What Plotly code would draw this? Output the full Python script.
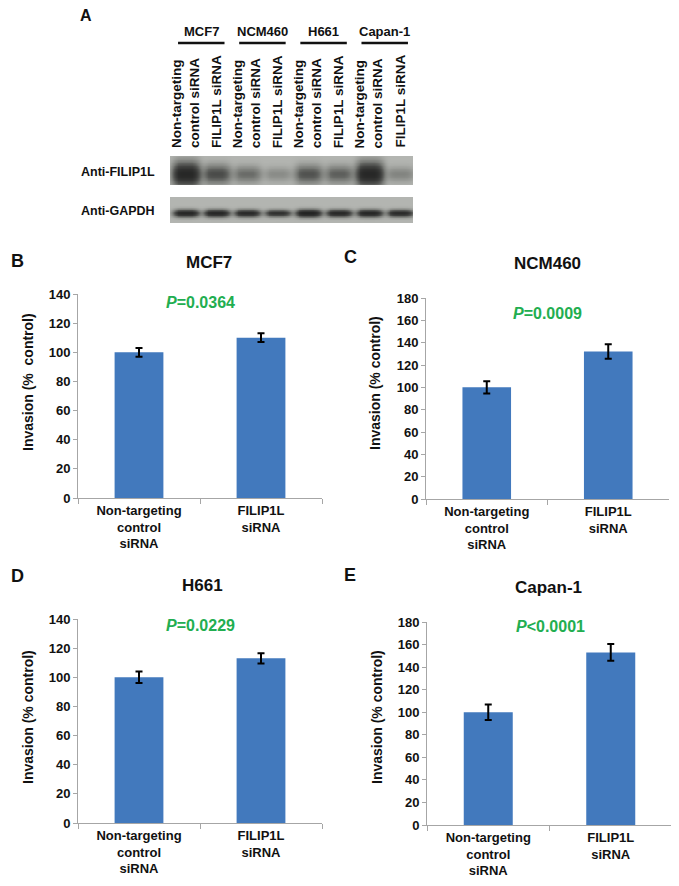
import numpy as np
import plotly.graph_objects as go

# page body has an 8px margin; figure coordinates below are given in page pixels
PAGE_W, PAGE_H = 679, 886
OFF = 8
W, H = PAGE_W - OFF, PAGE_H - OFF

# ---------------- data ----------------
categories = ["Non-targeting<br>control<br>siRNA", "FILIP1L<br>siRNA"]
panel_letters = ["B", "C", "D", "E"]
cell_lines = ["MCF7", "NCM460", "H661", "Capan-1"]

mcf7_mean = [100, 110]
mcf7_err = [3, 3]
ncm460_mean = [100, 132]
ncm460_err = [5.5, 6.5]
h661_mean = [100, 113]
h661_err = [4, 3.5]
capan1_mean = [100, 153]
capan1_err = [6.8, 7.4]

p_labels = ["<i>P</i>=0.0364", "<i>P</i>=0.0009", "<i>P</i>=0.0229", "<i>P</i>&lt;0.0001"]
y_max = [140, 180, 140, 180]
y_titles = ["Invasion (%\u00a0 control)", "Invasion (% control)",
            "Invasion (% control)", "Invasion (% control)"]

# western blot (panel A)
lane_labels = ["Non-targeting<br>control siRNA", "FILIP1L siRNA"] * 4
lane_index = [1, 2, 3, 4, 5, 6, 7, 8]
filip1l_band = [1.0, 0.55, 0.35, 0.18, 0.5, 0.42, 1.0, 0.22]
gapdh_band = [0.85, 0.85, 0.8, 0.7, 0.92, 0.82, 0.85, 0.78]
blot_labels = ["Anti-FILIP1L", "Anti-GAPDH"]

means = [mcf7_mean, ncm460_mean, h661_mean, capan1_mean]
errs = [mcf7_err, ncm460_err, h661_err, capan1_err]

# ---------------- layout helpers ----------------
def px(x):
    return (x - OFF) / W

def py(y):
    return 1 - (y - OFF) / H

FONT = "Arial, Liberation Sans, Helvetica, sans-serif"
BAR = "#4279BD"
GREEN = "#22AE50"
AXC = "#A6A6A6"
TXT = "#111111"

# panel geometry (page-pixel boxes)
dom_x = [(78, 322), (426, 669), (78, 322), (427, 672)]
dom_y = [(294, 498), (298, 499), (619, 823), (622, 825)]
title_pos = [(209, 262), (547, 264), (202, 585), (548, 587)]
letter_pos = [(9, 261), (342, 257), (9, 576), (342, 575)]
p_pos = [(200, 302), (547, 313), (200, 625), (550, 626)]
ylab_pos = [(28, 382), (375, 383), (28, 717), (377, 717)]

def ann(text, x, y, size, color=TXT, xanchor="center", yanchor="middle", **kw):
    d = dict(text=text, x=x, y=y, xref=kw.pop("xref", "paper"), yref=kw.pop("yref", "paper"),
             showarrow=False, xanchor=xanchor, yanchor=yanchor,
             font=dict(family=FONT, size=size, color=color))
    d.update(kw)
    return d

fig = go.Figure()
layout = dict(width=W, height=H, margin=dict(l=0, r=0, t=0, b=0, autoexpand=False),
              paper_bgcolor="white", plot_bgcolor="white", showlegend=False,
              bargap=0.6, font=dict(family=FONT, color=TXT))
annotations = []
shapes = []

for i in range(4):
    n = i + 1
    xa = "x" if n == 1 else f"x{n}"
    ya = "y" if n == 1 else f"y{n}"
    fig.add_trace(go.Bar(
        x=categories, y=means[i], xaxis=xa, yaxis=ya,
        marker=dict(color=BAR, line=dict(width=0)),
        error_y=dict(type="data", array=errs[i], color="black", thickness=2, width=3.5),
        hoverinfo="skip"))
    layout["xaxis" if n == 1 else f"xaxis{n}"] = dict(
        domain=[px(dom_x[i][0]), px(dom_x[i][1])], anchor=ya, automargin=False,
        showline=True, linecolor=AXC, linewidth=1, ticks="outside",
        tickson="boundaries", ticklen=5, tickcolor=AXC, showgrid=False,
        tickfont=dict(family=FONT, size=13, color=TXT, weight="bold"),
        fixedrange=True)
    layout["yaxis" if n == 1 else f"yaxis{n}"] = dict(
        domain=[py(dom_y[i][1]), py(dom_y[i][0])], anchor=xa, automargin=False,
        range=[0, y_max[i]], dtick=20, showline=True, linecolor=AXC, linewidth=1,
        ticks="outside", ticklen=4, tickcolor=AXC, showgrid=False, zeroline=False,
        tickfont=dict(family=FONT, size=13, color=TXT, weight="bold"),
        fixedrange=True)
    annotations.append(ann(f"<b>{cell_lines[i]}</b>", px(title_pos[i][0]), py(title_pos[i][1]), 17))
    annotations.append(ann(f"<b>{panel_letters[i]}</b>", px(letter_pos[i][0]), py(letter_pos[i][1]), 18,
                           xanchor="left"))
    annotations.append(ann(f"<b>{p_labels[i]}</b>", px(p_pos[i][0]), py(p_pos[i][1]), 16, color=GREEN))
    annotations.append(ann(f"<b>{y_titles[i]}</b>", px(ylab_pos[i][0]), py(ylab_pos[i][1]), 14,
                           textangle=-90))

# ---------------- western blot ----------------
lane_lo, lane_hi = 0.477, 8.425
xs = np.linspace(lane_lo, lane_hi, 260)
ys = np.linspace(0, 1, 40)
X, Y = np.meshgrid(xs, ys)

def blot(bands, yc, ys_, half_w, k):
    s = np.zeros_like(X)
    for li, b in zip(lane_index, bands):
        horiz = np.exp(-np.abs((X - li) / half_w) ** 4)
        vert = np.exp(-((Y - yc) / (ys_ * (0.6 + 0.6 * b))) ** 2)
        s += b * horiz * vert
    return 1 - np.exp(-k * s)

z1 = blot(filip1l_band, 0.38, 0.32, 0.45, 2.2)
z2 = blot(gapdh_band, 0.38, 0.12, 0.42, 2.6)

gray_scale = [[0, "#b3b5b1"], [0.45, "#7a7c78"], [1, "#121212"]]
blot_dom_y = [(156, 185), (197, 223)]
for j, z in enumerate([z1, z2]):
    n = 5 + j
    fig.add_trace(go.Heatmap(x=xs, y=ys, z=z, xaxis=f"x{n}", yaxis=f"y{n}",
                             colorscale=gray_scale, zmin=0, zmax=1, showscale=False,
                             zsmooth="best", hoverinfo="skip"))
    layout[f"xaxis{n}"] = dict(domain=[px(170), px(413)], range=[lane_lo, lane_hi],
                               visible=False, anchor=f"y{n}", fixedrange=True, automargin=False)
    layout[f"yaxis{n}"] = dict(domain=[py(blot_dom_y[j][1]), py(blot_dom_y[j][0])],
                               range=[0, 1], visible=False, anchor=f"x{n}", fixedrange=True,
                               automargin=False)
    annotations.append(ann(f"<b>{blot_labels[j]}</b>", px(157),
                           py((blot_dom_y[j][0] + blot_dom_y[j][1]) / 2 + 1), 12.5,
                           xanchor="right"))

for li, lab in zip(lane_index, lane_labels):
    annotations.append(ann(f"<b>{lab}</b>", li, py(150), 13.5, xref="x5",
                           yanchor="bottom", textangle=-90, align="left"))

for ci, name in enumerate(cell_lines):
    c = lane_index[2 * ci] + 0.5
    annotations.append(ann(f"<b>{name}</b>", c, py(32), 13, xref="x5"))
    shapes.append(dict(type="line", xref="x5", yref="paper", x0=c - 0.76, x1=c + 0.76,
                       y0=py(43), y1=py(43), line=dict(color=TXT, width=2.5)))

annotations.append(ann("<b>A</b>", px(86), py(15), 16))

layout["annotations"] = annotations
layout["shapes"] = shapes
fig.update_layout(**layout)
fig.write_html("out.html")
